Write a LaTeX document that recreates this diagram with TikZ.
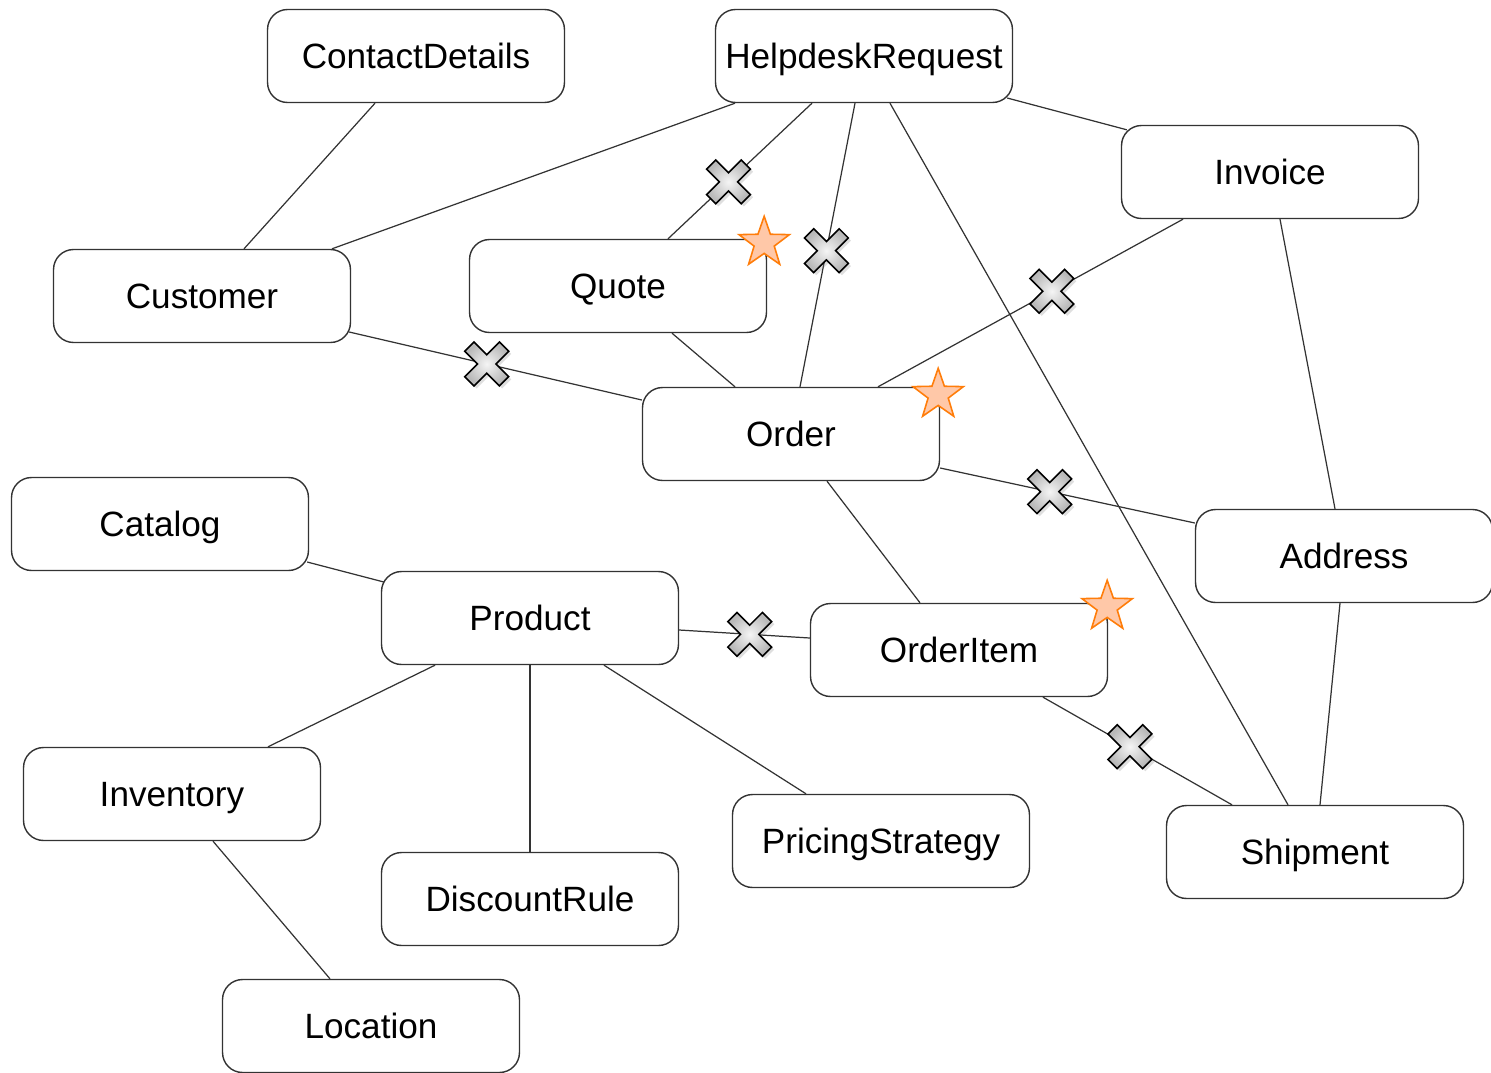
\documentclass[tikz,border=0pt]{standalone}
\usepackage{fontspec}
\setmainfont{Liberation Sans}
\usetikzlibrary{calc,shapes.geometric,shadows}

\definecolor{starfill}{RGB}{255,200,168}
\definecolor{starline}{RGB}{255,125,10}

\tikzset{
	entity/.style={draw=black!80, line width=0.8pt, rounded corners=0.4cm, fill=white,
		minimum width=5.94cm, minimum height=1.86cm, inner sep=0pt,
		text height=14.3pt, text depth=0pt,
		font=\fontsize{20}{24}\selectfont},
	link/.style={draw=black!80, line width=0.7pt},
	hotstar/.style={star, star points=5, star point ratio=2.5, minimum size=1.06cm,
		inner sep=0pt, draw=starline, line width=0.9pt, fill=starfill},
	xmark/.pic={
		\draw[black, line width=0.9pt, inner color=gray!8, outer color=gray!55,
			drop shadow={shadow xshift=1.5pt, shadow yshift=-1.5pt, opacity=.25}, rotate=45]
			(6.5,6.5) -- (6.5,24.5) -- (-6.5,24.5) -- (-6.5,6.5) -- (-24.5,6.5) -- (-24.5,-6.5)
			-- (-6.5,-6.5) -- (-6.5,-24.5) -- (6.5,-24.5) -- (6.5,-6.5) -- (24.5,-6.5) -- (24.5,6.5) -- cycle;
	}
}

\begin{document}
\begin{tikzpicture}[x=0.02cm, y=-0.02cm]
	\useasboundingbox (0,0) rectangle (1491,1072);

	% entities
	\node[entity] (cd) at (416,56) {ContactDetails};
	\node[entity] (hd) at (864,56) {HelpdeskRequest};
	\node[entity] (iv) at (1270,172) {Invoice};
	\node[entity] (cu) at (202,296) {Customer};
	\node[entity] (qu) at (618,286) {Quote};
	\node[entity] (or) at (791,434) {Order};
	\node[entity] (ca) at (160,524) {Catalog};
	\node[entity] (ad) at (1344,556) {Address};
	\node[entity] (pr) at (530,618) {Product};
	\node[entity] (oi) at (959,650) {OrderItem};
	\node[entity] (in) at (172,794) {Inventory};
	\node[entity] (ps) at (881,841) {PricingStrategy};
	\node[entity] (sh) at (1315,852) {Shipment};
	\node[entity] (dr) at (530,899) {DiscountRule};
	\node[entity] (lo) at (371,1026) {Location};

	% relations
	\draw[link] ($(cd.south)+(-41,0)$) -- ($(cu.north)+(42,0)$);
	\draw[link] ($(hd.south)+(-129,0)$) -- ($(cu.north)+(130,0)$);
	\draw[link] ($(hd.south)+(-52,0)$) -- coordinate[pos=0.58] (x1) ($(qu.north)+(50,0)$);
	\draw[link] ($(hd.south)+(-9,0)$) -- coordinate[pos=0.52] (x2) ($(or.north)+(9,0)$);
	\draw[link] ($(hd.south)+(26,0)$) -- ($(sh.north)+(-27,0)$);
	\draw[link] ($(hd.east)+(-6,42)$) -- ($(iv.north west)+(6,5)$);
	\draw[link] ($(iv.south)+(-87,0)$) -- coordinate[pos=0.43] (x3) ($(or.north)+(87,0)$);
	\draw[link] ($(iv.south)+(10,0)$) -- ($(ad.north)+(-9,0)$);
	\draw[link] ($(cu.east)+(-2,36)$) -- coordinate[pos=0.47] (x4) ($(or.west)+(0,-34)$);
	\draw[link] ($(qu.south)+(54,0)$) -- ($(or.north)+(-56,0)$);
	\draw[link] ($(or.east)+(0,34)$) -- coordinate[pos=0.43] (x5) ($(ad.west)+(0,-33)$);
	\draw[link] ($(or.south)+(36,0)$) -- ($(oi.north)+(-39,0)$);
	\draw[link] ($(ca.east)+(-2,38)$) -- ($(pr.west)+(3,-36)$);
	\draw[link] ($(pr.east)+(0,12)$) -- coordinate[pos=0.54] (x6) ($(oi.west)+(0,-12)$);
	\draw[link] ($(pr.south)+(-95,0)$) -- ($(in.north)+(96,0)$);
	\draw[link] (pr.south) -- (dr.north);
	\draw[link] ($(pr.south)+(74,0)$) -- ($(ps.north)+(-75,0)$);
	\draw[link] ($(oi.south)+(84,0)$) -- coordinate[pos=0.46] (x7) ($(sh.north)+(-83,0)$);
	\draw[link] ($(ad.south)+(-4,0)$) -- ($(sh.north)+(5,0)$);
	\draw[link] ($(in.south)+(41,0)$) -- ($(lo.north)+(-41,0)$);

	% markers
	\foreach \m in {x1,x2,x3,x4,x5,x6,x7}
		\pic at (\m) {xmark};
	\node[hotstar] (s1) at ($(qu.north east)+(-3,4)$) {};
	\node[hotstar] (s2) at ($(or.north east)+(-2,8)$) {};
	\node[hotstar] (s3) at ($(oi.north east)+(-1,4)$) {};
\end{tikzpicture}
\end{document}
